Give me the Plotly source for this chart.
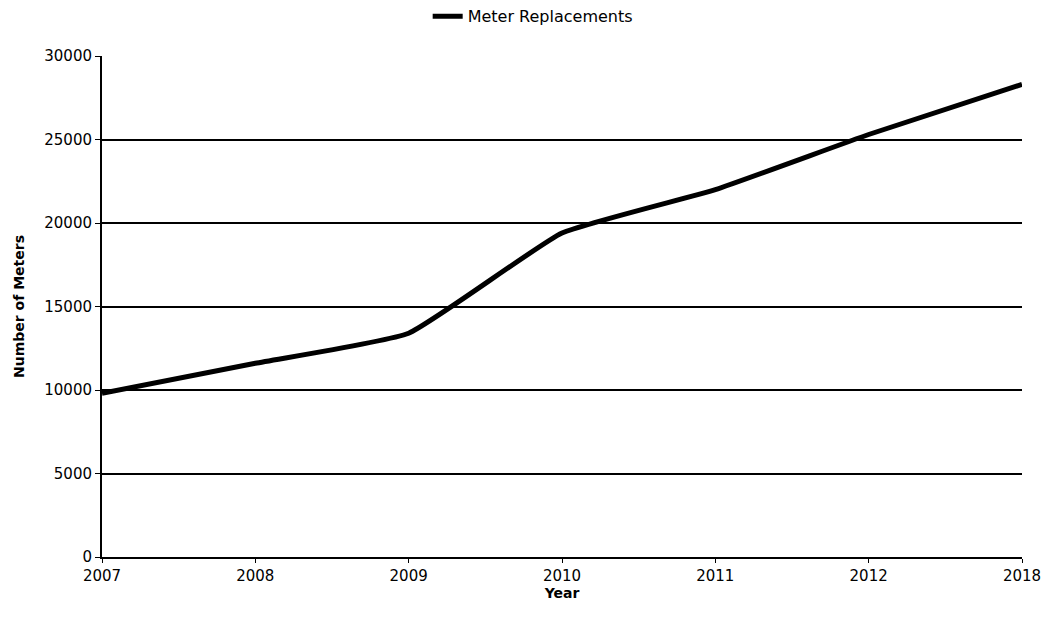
import plotly.graph_objects as go

years = ["2007", "2008", "2009", "2010", "2011", "2012", "2018"]
meters = [9800, 11600, 13400, 19400, 22000, 25300, 28300]
y_ticks = [0, 5000, 10000, 15000, 20000, 25000, 30000]

fig = go.Figure()
fig.add_trace(go.Scatter(
    x=years, y=meters, mode="lines", name="Meter Replacements",
    line=dict(color="black", width=5, shape="spline", smoothing=0.4),
))

fig.update_layout(
    width=1042, height=626,
    margin=dict(l=102, r=20, t=56, b=69, autoexpand=False),
    paper_bgcolor="white", plot_bgcolor="white",
    font=dict(family="DejaVu Sans", size=15, color="black"),
    showlegend=True,
    legend=dict(orientation="h", x=0.354, xref="paper", y=0.974, yref="container",
                xanchor="left", yanchor="middle",
                font=dict(size=16), bgcolor="rgba(0,0,0,0)"),
    xaxis=dict(
        type="category", range=[0, 6], automargin=False,
        showline=True, linecolor="black", linewidth=2,
        ticks="outside", ticklen=4, tickcolor="black",
        showgrid=False,
        title=dict(text="<b>Year</b>", font=dict(size=14), standoff=0),
        tickfont=dict(size=15),
    ),
    yaxis=dict(
        range=[0, 30000], tickvals=y_ticks, automargin=False,
        ticktext=[str(v) for v in y_ticks],
        showline=True, linecolor="black", linewidth=2,
        ticks="outside", ticklen=5, tickcolor="black",
        showgrid=True, gridcolor="black", gridwidth=1.5,
        zeroline=False,
        title=dict(text="<b>Number of Meters</b>", font=dict(size=14), standoff=16),
        tickfont=dict(size=15),
    ),
)

fig.write_html("out.html", config={"displayModeBar": False},
               post_script="document.body.style.margin='0';document.body.style.overflow='hidden';")
